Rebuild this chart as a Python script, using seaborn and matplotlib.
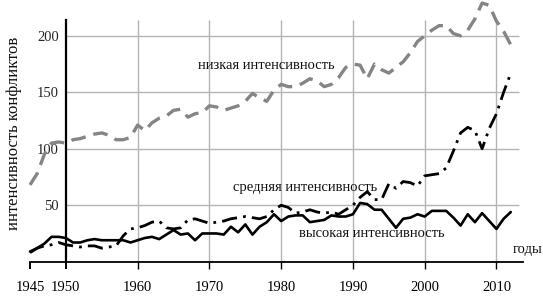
import numpy as np
import pandas as pd
import matplotlib
matplotlib.use("Agg")
import matplotlib.pyplot as plt
import seaborn as sns

years = list(range(1945, 2013))

low = [68, 78, 95, 105, 106, 105, 108, 109, 111, 113,
       114, 112, 108, 108, 110, 121, 116, 123, 127, 129,
       134, 135, 128, 131, 132, 138, 137, 134, 136, 138,
       142, 149, 145, 142, 152, 157, 155, 155, 158, 162,
       160, 155, 157, 163, 172, 175, 174, 162, 175, 170,
       167, 172, 177, 185, 195, 200, 205, 209, 209, 202,
       200, 205, 215, 229, 227, 213, 204, 192]

medium = [8, 12, 14, 15, 17, 15, 14, 13, 14, 14,
          12, 13, 14, 23, 29, 30, 32, 35, 36, 30,
          29, 30, 37, 38, 36, 34, 35, 36, 38, 39,
          40, 39, 38, 40, 46, 50, 48, 43, 44, 46,
          44, 43, 44, 42, 46, 50, 57, 62, 55, 55,
          69, 65, 71, 70, 67, 76, 77, 78, 83, 98,
          114, 119, 116, 100, 118, 131, 150, 167]

high = [9, 12, 16, 22, 22, 21, 17, 17, 19, 20,
        19, 19, 19, 19, 17, 19, 21, 22, 20, 24,
        28, 24, 25, 19, 25, 25, 25, 24, 31, 26,
        33, 24, 31, 35, 42, 36, 40, 41, 41, 35,
        36, 37, 41, 40, 40, 42, 52, 51, 46, 46,
        38, 30, 38, 39, 42, 40, 45, 45, 45, 39,
        32, 42, 35, 43, 36, 29, 38, 44]

xtick_years = [1945, 1950, 1960, 1970, 1980, 1990, 2000, 2010]
ytick_vals = [50, 100, 150, 200]
grid_years = [1960, 1970, 1980, 1990, 2000, 2010]

label_low = "низкая интенсивность"
label_mid = "средняя интенсивность"
label_high = "высокая интенсивность"
xlabel_text = "годы"
ylabel_text = "интенсивность конфликтов"

sns.set_theme(style="white")
plt.rcParams["font.family"] = ["Liberation Serif", "DejaVu Serif"]

fig = plt.figure(figsize=(5.43, 3.05), dpi=100)
ax = fig.add_axes([30 / 543, 1 - 261.7 / 305, 493 / 543, (261.7 - 20) / 305])

df = pd.DataFrame({"year": years, "low": low, "medium": medium, "high": high})

ymax = 214
x0, x1 = 1945, 2013.7

# grid
ax.hlines(ytick_vals, 1950, 2013.1, color="#b4b4b4", lw=1.0, zorder=0)
ax.vlines(grid_years, 0, ymax, color="#b4b4b4", lw=1.0, zorder=0)

sns.lineplot(data=df, x="year", y="low", ax=ax, color="#858585", lw=2.4,
             linestyle=(0, (4.4, 2.4)))
sns.lineplot(data=df, x="year", y="medium", ax=ax, color="black", lw=2.0,
             linestyle=(0, (5.5, 2.2, 1.0, 2.2)))
sns.lineplot(data=df, x="year", y="high", ax=ax, color="black", lw=1.9)
for ln in ax.get_lines():
    ln.set_clip_on(False)

ax.set_xlim(x0, x1)
ax.set_ylim(0, ymax)

for s in ["top", "right"]:
    ax.spines[s].set_visible(False)
ax.spines["left"].set_position(("data", 1950))
ax.spines["left"].set_color("black")
ax.spines["left"].set_linewidth(1.6)
ax.spines["bottom"].set_color("black")
ax.spines["bottom"].set_linewidth(1.3)

ax.set_xticks(xtick_years)
ax.set_xticklabels([str(y) for y in xtick_years])
ax.set_yticks(ytick_vals)
ax.set_yticklabels([str(v) for v in ytick_vals])
ax.tick_params(axis="x", direction="out", length=5, width=1.0, pad=9,
               labelsize=10.5, bottom=True, colors="black")
ax.tick_params(axis="y", length=0, pad=5, labelsize=10.5, left=False)
for t, yr in zip(ax.xaxis.get_major_ticks(), xtick_years):
    if yr in grid_years:
        t.tick1line.set_color("#b4b4b4")
    else:
        t.tick1line.set_color("black")
        t.tick1line.set_markeredgewidth(1.4)

ax.set_xlabel("")
ax.set_ylabel(ylabel_text, fontsize=12, color="#111111")
ax.yaxis.set_label_coords(-0.016, 0.53)

fs = 10.5
tc = "#111111"
ax.text(1977.9, 173.5, label_low, ha="center", va="center", fontsize=fs, color=tc)
ax.text(1983.4, 66, label_mid, ha="center", va="center", fontsize=fs, color=tc)
ax.text(1992.7, 25.4, label_high, ha="center", va="center", fontsize=fs, color=tc)
ax.text(2014.4, 11, xlabel_text, ha="center", va="center", fontsize=fs,
        color=tc, clip_on=False)

fig.savefig("out.png", dpi=100)
